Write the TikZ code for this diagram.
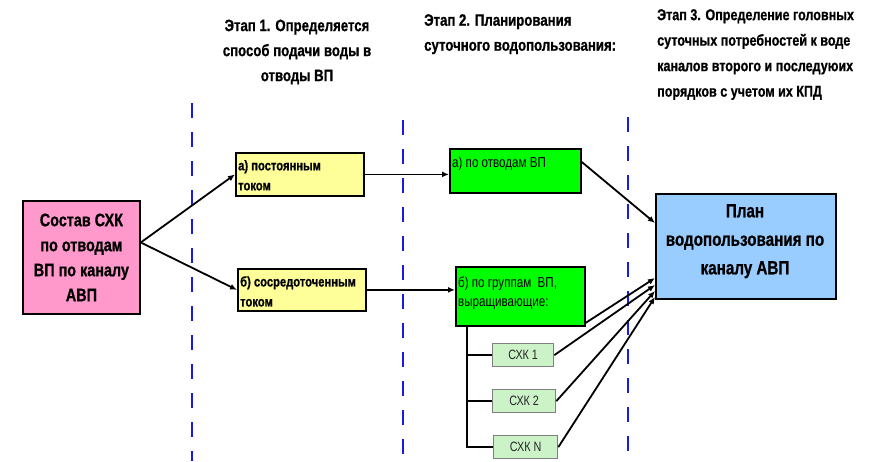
\documentclass[tikz,border=0pt]{standalone}
\usepackage{fontspec}
\setmainfont{Liberation Sans}
\newfontfamily\nar[FakeStretch=0.8,BoldFeatures={FakeBold=0.8}]{Liberation Sans}
\usetikzlibrary{arrows.meta,calc}
\definecolor{pinkf}{HTML}{FF99CC}
\definecolor{yellf}{HTML}{FFFF99}
\definecolor{greenf}{HTML}{00FF00}
\definecolor{lgreenf}{HTML}{CCF2C8}
\definecolor{bluef}{HTML}{99CCFF}
\definecolor{dashblue}{HTML}{1A1AE6}
\begin{document}
\begin{tikzpicture}[x=1pt,y=-1pt,
  box/.style={draw=black,line width=1.8pt,anchor=north west},
  txt/.style={inner sep=0pt,anchor=north west,align=left},
  ytxt/.style={txt,font=\nar\bfseries\fontsize{14}{20}\selectfont},
  gtxt/.style={txt,font=\nar\fontsize{14.5}{18.5}\selectfont},
  sbox/.style={draw=gray,line width=1.3pt,fill=lgreenf,anchor=north west,minimum height=23pt,font=\nar\fontsize{13.5}{14}\selectfont,text=black!85},
  sep/.style={draw=dashblue,line width=2.3pt,dash pattern=on 15pt off 14pt},
  conn/.style={draw=black,line width=1.8pt},
  arr/.style={conn,-{Latex[length=7pt,width=6pt]}},
  head/.style={inner sep=0pt,font=\nar\bfseries\fontsize{16.5}{25}\selectfont}
]
\useasboundingbox (0,0) rectangle (874,461);
% separators
\draw[sep] (192,103) -- (192,461);
\draw[sep] (403,120) -- (403,461);
\draw[sep] (628,117) -- (628,452);
% headings
\node[head,align=center] (h1) at (297,52) {Этап 1. Определяется\\способ подачи воды в\\отводы ВП};
\node[head,align=left,anchor=north west] (h2) at (424,14) {Этап 2. Планирования\\суточного водопользования:};
\node[head,align=left,anchor=north west,font=\nar\bfseries\fontsize{15.7}{25.5}\selectfont] (h3) at (657,9) {Этап 3. Определение головных\\суточных потребностей к воде\\каналов второго и последуюих\\порядков с учетом их КПД};
% boxes
\node[box,fill=pinkf,minimum width=117pt,minimum height=113pt,align=center,font=\nar\bfseries\fontsize{18}{25}\selectfont] (pink) at (22,200) {Состав СХК\\по отводам\\ВП по каналу\\АВП};
\node[box,fill=yellf,minimum width=128pt,minimum height=43pt] (ya) at (235,152) {};
\node[ytxt] (yat) at (238,160) {а) постоянным\\током};
\node[box,fill=yellf,minimum width=128pt,minimum height=42pt] (yb) at (237,268) {};
\node[ytxt] (ybt) at (240,276) {б) сосредоточенным\\током};
\node[box,fill=greenf,minimum width=131pt,minimum height=44pt] (ga) at (449,148) {};
\node[gtxt] (gat) at (452,157) {а) по отводам ВП};
\node[box,fill=greenf,minimum width=129pt,minimum height=59pt] (gb) at (455,266) {};
\node[gtxt] (gbt) at (458,277) {б) по группам~~ВП,\\выращивающие:};
\node[sbox,minimum width=61pt] (s1) at (492,343) {СХК 1};
\node[sbox,minimum width=63pt] (s2) at (492,389) {СХК 2};
\node[sbox,minimum width=64pt] (s3) at (493,435) {СХК N};
\node[box,fill=bluef,minimum width=180pt,minimum height=105pt] (bl) at (655,193) {};
\node[inner sep=0pt,align=center,anchor=north,font=\nar\bfseries\fontsize{19}{28.5}\selectfont] (blt) at (745,204) {План\\водопользования по\\каналу АВП};
% connectors
\coordinate (pk) at ($(pink.north east)!0.37!(pink.south east)$);
\draw[arr] (pk) -- (ya.west);
\draw[arr] (pk) -- (yb.west);
\draw[arr] (ya.east) -- (ya.east -| ga.west);
\draw[arr] (yb.east) -- (yb.east -| gb.west);
\coordinate (br) at ($(gb.south west)+(12,0)$);
\draw[conn] (br) |- (s3.west);
\draw[conn] (br |- s1.west) -- (s1.west);
\draw[conn] (br |- s2.west) -- (s2.west);
\coordinate (t0) at ($(bl.north west)+(0,30)$);
\coordinate (t1) at ($(bl.north west)+(0,85)$);
\coordinate (t2) at ($(bl.north west)+(0,92)$);
\coordinate (t3) at ($(bl.north west)+(0,98)$);
\coordinate (t4) at ($(bl.north west)+(0,104)$);
\coordinate (gbo) at ($(gb.south east)+(0,-4)$);
\draw[arr] ($(ga.north east)+(0,14)$) -- (t0);
\draw[arr] (gbo) -- (t1);
\draw[arr] (s1.east) -- (t2);
\draw[arr] (s2.east) -- (t3);
\draw[arr] (s3.east) -- (t4);
\end{tikzpicture}
\end{document}
